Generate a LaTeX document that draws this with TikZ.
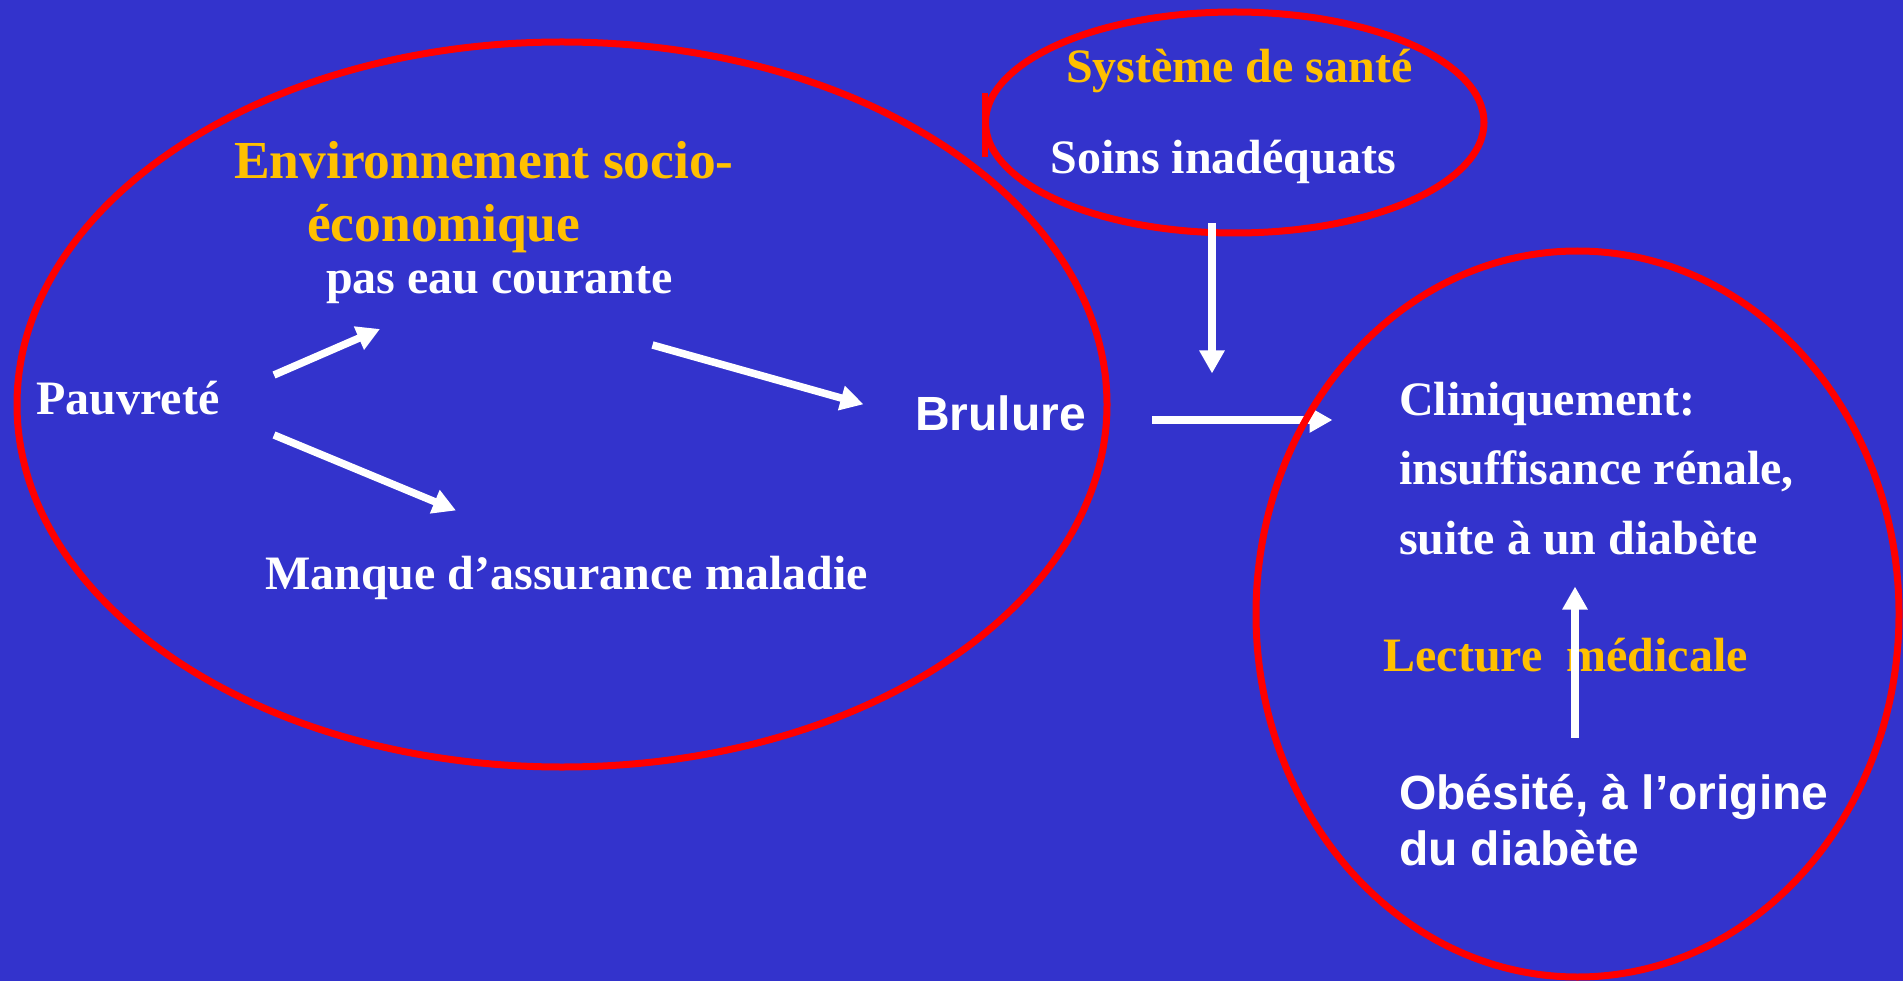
\documentclass[tikz,border=0pt]{standalone}
\usepackage{fontspec}
\setmainfont{Liberation Serif}
\setsansfont{Liberation Sans}
\usetikzlibrary{arrows.meta}
\definecolor{bgblue}{RGB}{51,51,204}
\definecolor{ringred}{RGB}{255,0,0}
\definecolor{gold}{RGB}{255,192,0}
\begin{document}
\begin{tikzpicture}[x=1pt,y=-1pt,
  lbl/.style={inner sep=0pt, outer sep=0pt, anchor=base west, text=white,
    font=\bfseries\fontsize{48}{58}\selectfont},
  sanslbl/.style={lbl, font=\sffamily\bfseries\fontsize{48}{58}\selectfont},
  goldlbl/.style={lbl, text=gold},
  bigtitle/.style={goldlbl, font=\bfseries\fontsize{53.5}{64}\selectfont},
  redring/.style={draw=ringred, line width=7pt},
  conn/.style={draw=white, line width=7.5pt, -{Triangle[length=23pt,width=24pt]}}]
\useasboundingbox (0,0) rectangle (1903,981);
\fill[bgblue] (0,0) rectangle (1903,981);

% groups
\draw[redring] (562,404.5) ellipse [x radius=545pt, y radius=362.5pt];
\draw[redring] (1234.75,122.5) ellipse [x radius=249.25pt, y radius=110.5pt];
\draw[ringred, line width=6.5pt] (985,93) -- (985,157);

% texts
\node[bigtitle] (env1) at (234,178.5) {Environnement socio-};
\node[bigtitle] (env2) at (307,242) {économique};
\node[lbl] (eau) at (326,293.5) {pas eau courante};
\node[lbl] (pauv) at (36.5,414.5) {Pauvreté};
\node[sanslbl] (brul) at (915,430.5) {Brulure};
\node[lbl] (manq) at (265,589.5) {Manque d’assurance maladie};
\node[goldlbl] (sys) at (1066,82.5) {Système de santé};
\node[lbl] (soins) at (1050.5,173.5) {Soins inadéquats};
\node[lbl] (clin1) at (1399,415) {Cliniquement:};
\node[lbl] (clin2) at (1399,484.5) {insuffisance rénale,};
\node[lbl] (clin3) at (1399,554) {suite à un diabète};
\node[goldlbl] (lect) at (1383.5,671.5) {Lecture~ médicale};
\node[sanslbl] (obes1) at (1399,809.5) {Obésité, à l’origine};
\node[sanslbl] (obes2) at (1399,865) {du diabète};

% connector ends
\coordinate (a1s) at (274,375);   \coordinate (a1e) at (380,329);
\coordinate (a2s) at (274,435);   \coordinate (a2e) at (456,510.5);
\coordinate (a3s) at (652.5,345); \coordinate (a3e) at (863.5,404.3);
\coordinate (vs) at (1212,223);   \coordinate (ve) at (1212,373.5);
\coordinate (hs) at (1152,420);   \coordinate (he) at (1332.5,420);
\coordinate (us) at (1575,737.5); \coordinate (ue) at (1575,586.5);

\draw[conn] (a1s) -- (a1e);
\draw[conn] (a2s) -- (a2e);
\draw[conn] (a3s) -- (a3e);
\draw[conn] (vs) -- (ve);
\draw[conn] (hs) -- (he);
\draw[conn] (us) -- (ue);

\draw[redring] (1577.5,614) ellipse [x radius=321.5pt, y radius=363pt];
\end{tikzpicture}
\end{document}
